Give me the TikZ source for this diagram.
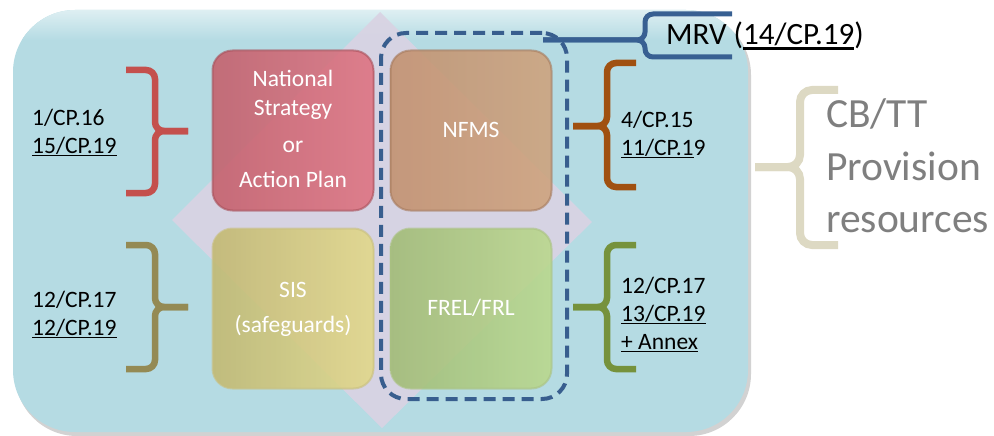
\documentclass[tikz,border=0pt]{standalone}
\usepackage{fontspec}
\setmainfont{Carlito}
\definecolor{bgblue}{RGB}{181,219,227}
\definecolor{lav}{RGB}{217,211,227}
\definecolor{redL}{RGB}{196,94,106}
\definecolor{redR}{RGB}{222,114,128}
\definecolor{orL}{RGB}{194,144,110}
\definecolor{orR}{RGB}{206,162,124}
\definecolor{yeL}{RGB}{194,184,112}
\definecolor{yeR}{RGB}{226,216,136}
\definecolor{grL}{RGB}{160,187,116}
\definecolor{grR}{RGB}{186,216,140}
\definecolor{dashblue}{RGB}{56,94,142}
\definecolor{bred}{RGB}{196,80,77}
\definecolor{bolive}{RGB}{148,138,84}
\definecolor{bbrown}{RGB}{160,80,16}
\definecolor{bgreen}{RGB}{118,146,60}
\definecolor{bblue}{RGB}{56,96,146}
\definecolor{bbeige}{RGB}{221,217,195}
\definecolor{cbgrey}{RGB}{127,127,127}
\newlength\ulw
\newcommand\myul[1]{\settowidth\ulw{#1}\rlap{\rule[-3.2pt]{\ulw}{1.6pt}}#1}
\newcommand\myulb[1]{\settowidth\ulw{#1}\rlap{\rule[-4.6pt]{\ulw}{2.2pt}}#1}
\begin{document}
\begin{tikzpicture}[x=1pt,y=-1pt,
  ref/.style={anchor=base west, font=\fontsize{23.5}{28}\selectfont, inner sep=0pt, text=black},
  boxtxt/.style={anchor=base, font=\fontsize{23.5}{28}\selectfont, inner sep=0pt, text=white},
  panel/.style={rounded corners=20pt, line width=2pt, minimum width=161pt, minimum height=160pt, inner sep=0pt, fill opacity=0.88, draw opacity=0.6},
  bracestyle/.style={line width=6.5pt, rounded corners=9pt},
]
\useasboundingbox (0,0) rectangle (994,436);
% background
\fill[gray!35, rounded corners=62pt] (15,13) rectangle (751,436);
\fill[bgblue, rounded corners=62pt] (13,10) rectangle (748,432);
\begin{scope}
\clip[rounded corners=62pt] (13,10) rectangle (748,432);
\shade[top color=bgblue!45!white, bottom color=bgblue] (13,10) rectangle (748,40);
\end{scope}
% diamond
\fill[lav, opacity=0.92] (380,12) -- (592,222) -- (382,428) -- (172,220) -- cycle;
% panels
\node[panel, left color=redL, right color=redR, draw=redL!85!black] (ns) at (293,130.5) {};
\node[panel, left color=orL, right color=orR, draw=orL!85!black] (nf) at (471,130.5) {};
\node[panel, left color=yeL, right color=yeR, draw=yeL!90!white] (sg) at (293,308.5) {};
\node[panel, left color=grL, right color=grR, draw=grL!90!white] (fr) at (471,308.5) {};
% dashed MRV frame
\node[draw=dashblue, line width=4pt, dash pattern=on 12pt off 7pt, rounded corners=25pt,
  minimum width=186pt, minimum height=366pt, inner sep=0pt] (mrvbox) at (474,216) {};
% braces
\draw[bred, bracestyle] (126,70) -- (155,70) -- (155,131) -- (188,131);
\draw[bred, bracestyle] (126,193) -- (155,193) -- (155,131) -- (188,131);
\draw[bolive, bracestyle] (126,245) -- (155,245) -- (155,307) -- (188,307);
\draw[bolive, bracestyle] (126,369) -- (155,369) -- (155,307) -- (188,307);
\draw[bbrown, bracestyle] (636,63) -- (607,63) -- (607,126) -- (573,126);
\draw[bbrown, bracestyle] (636,187) -- (607,187) -- (607,126) -- (573,126);
\draw[bgreen, bracestyle] (636,245) -- (607,245) -- (607,307) -- (573,307);
\draw[bgreen, bracestyle] (636,369) -- (607,369) -- (607,307) -- (573,307);
\coordinate (mrvtip) at (543,40);
\draw[bblue, line width=5pt, rounded corners=8pt] (732,14) -- (645,14) -- (645,40) -- (mrvtip);
\draw[bblue, line width=5pt, rounded corners=8pt] (732,57) -- (645,57) -- (645,40) -- (mrvtip);
\draw[bbeige, line width=8pt, rounded corners=12pt] (838,90) -- (800,90) -- (800,167) -- (755,167);
\draw[bbeige, line width=8pt, rounded corners=12pt] (838,245) -- (800,245) -- (800,167) -- (755,167);
% panel texts
\node[boxtxt] (ns1) at (293,87) {National};
\node[boxtxt] (ns2) at (293,115) {Strategy};
\node[boxtxt] (ns3) at (293,152) {or};
\node[boxtxt] (ns4) at (293,187) {Action Plan};
\node[boxtxt] (nfms) at (471,137) {NFMS};
\node[boxtxt] (sis1) at (293,297) {SIS};
\node[boxtxt] (sis2) at (293,332) {(safeguards)};
\node[boxtxt] (frel) at (471,315) {FREL/FRL};
% references
\node[ref] (r1a) at (32,125) {1/CP.16};
\node[ref] (r1b) at (32,153) {\myul{15/CP.19}};
\node[ref] (r2a) at (32,307) {12/CP.17};
\node[ref] (r2b) at (32,335) {\myul{12/CP.19}};
\node[ref] (r3a) at (621,127) {4/CP.15};
\node[ref] (r3b) at (621,155) {\myul{11/CP.1}9};
\node[ref] (r4a) at (621,293) {12/CP.17};
\node[ref] (r4b) at (621,321) {\myul{13/CP.19}};
\node[ref] (r4c) at (621,349) {\myul{+ Annex}};
\node[ref, font=\fontsize{31}{36}\selectfont] (mrv) at (666,45) {MRV (\myulb{14/CP.19})};
% CB/TT
\node[anchor=base west, inner sep=0pt, text=cbgrey, font=\fontsize{41.5}{50}\selectfont] (cb1) at (826,128) {CB/TT};
\node[anchor=base west, inner sep=0pt, text=cbgrey, font=\fontsize{41.5}{50}\selectfont] (cb2) at (826,180) {Provision};
\node[anchor=base west, inner sep=0pt, text=cbgrey, font=\fontsize{41.5}{50}\selectfont] (cb3) at (826,232) {resources};
\end{tikzpicture}
\end{document}
